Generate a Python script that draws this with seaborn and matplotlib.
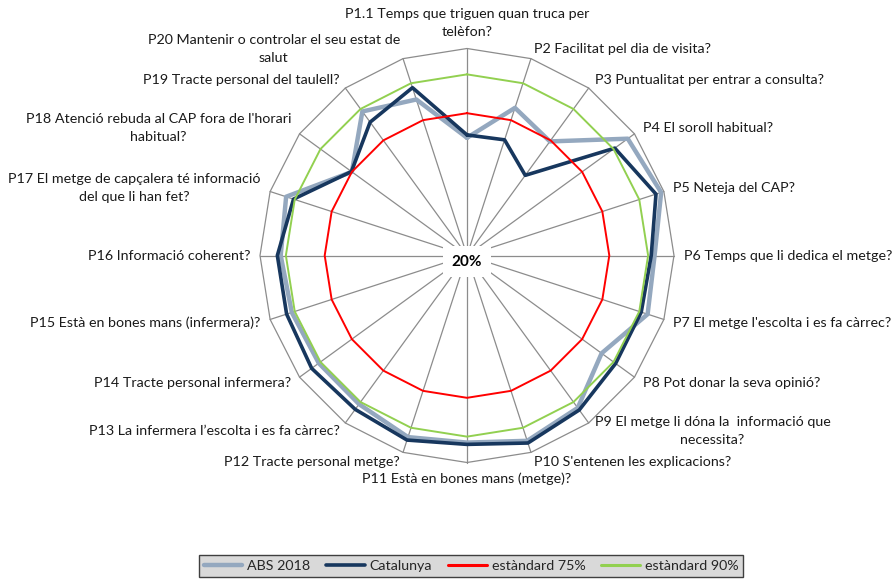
import numpy as np
import pandas as pd
import matplotlib
matplotlib.use("Agg")
import matplotlib.pyplot as plt
import seaborn as sns
from matplotlib.lines import Line2D

categories = [
    "P1.1 Temps que triguen quan truca per\ntelèfon?",
    "P2 Facilitat pel dia de visita?",
    "P3 Puntualitat per entrar a consulta?",
    "P4 El soroll habitual?",
    "P5 Neteja del CAP?",
    "P6 Temps que li dedica el metge?",
    "P7 El metge l'escolta i es fa càrrec?",
    "P8 Pot donar la seva opinió?",
    "P9 El metge li dóna la  informació que\nnecessita?",
    "P10 S'entenen les explicacions?",
    "P11 Està en bones mans (metge)?",
    "P12 Tracte personal metge?",
    "P13 La infermera l’escolta i es fa càrrec?",
    "P14 Tracte personal infermera?",
    "P15 Està en bones mans (infermera)?",
    "P16 Informació coherent?",
    "P17 El metge de capçalera té informació\ndel que li han fet?",
    "P18 Atenció rebuda al CAP fora de l'horari\nhabitual?",
    "P19 Tracte personal del taulell?",
    "P20 Mantenir o controlar el seu estat de\nsalut",
]

abs_2018 = [65.5, 80.0, 74.5, 96.8, 98.9, 92.5, 93.4, 84.3, 92.8, 95.3,
            92.3, 93.8, 91.0, 90.8, 91.2, 92.0, 93.5, 75.0, 88.8, 83.4]
catalunya = [66.6, 67.0, 58.3, 90.6, 96.8, 91.2, 90.8, 91.0, 93.8, 96.2,
             93.0, 95.0, 93.5, 94.2, 93.3, 93.3, 90.5, 75.2, 83.7, 88.2]
estandard_75 = [75] * 20
estandard_90 = [90] * 20

series_names = ["ABS 2018", "Catalunya", "estàndard 75%", "estàndard 90%"]
series_values = [abs_2018, catalunya, estandard_75, estandard_90]
series_colors = ["#94A8BF", "#17375E", "#FF0000", "#92D050"]
series_widths = [3.2, 2.6, 1.4, 1.4]

r_min, r_max = 20, 100
center_label = "20%"

sns.set_style("white")
plt.rcParams["font.family"] = ["Lato", "DejaVu Sans"]

fig = plt.figure(figsize=(8.95, 5.82), dpi=100)
ax = fig.add_axes([260 / 895, 119.5 / 582, 414 / 895, 414 / 582], projection="polar")
ax.set_theta_zero_location("N")
ax.set_theta_direction(-1)

n = len(categories)
theta = np.arange(n) * 2 * np.pi / n
theta_closed = np.append(theta, 2 * np.pi)

# grid: spokes and outer ring
grid_color = "#8C8C8C"
for t in theta:
    ax.plot([t, t], [r_min, r_max], color=grid_color, lw=0.9, zorder=1, clip_on=False)
ax.plot(theta_closed, [r_max] * (n + 1), color=grid_color, lw=0.9, zorder=1, clip_on=False)

handles = []
for name, vals, col, lw in zip(series_names, series_values, series_colors, series_widths):
    df = pd.DataFrame({"theta": theta_closed, "value": list(vals) + [vals[0]]})
    sns.lineplot(data=df, x="theta", y="value", sort=False, estimator=None,
                 errorbar=None, color=col, lw=lw, ax=ax, legend=False, zorder=3)
    handles.append(Line2D([0], [0], color=col, lw=max(lw, 2.2)))

ax.set_ylim(r_min, r_max)
ax.set_xlim(0, 2 * np.pi)
ax.set_xlabel("")
ax.set_ylabel("")
ax.set_xticks([])
ax.set_yticks([])
ax.grid(False)
ax.spines["polar"].set_visible(False)
ax.patch.set_alpha(0)

# category labels
d = 10
for t, lab in zip(theta, categories):
    s, c = np.sin(t), np.cos(t)
    if abs(s) < 0.01:
        ha = "center"
        va = "bottom" if c > 0 else "top"
    else:
        ha = "left" if s > 0 else "right"
        va = "center"
    ax.annotate(lab, xy=(t, r_max), xytext=(d * s, d * c), textcoords="offset pixels",
                ha=ha, va=va, multialignment="center", fontsize=10.3, linespacing=1.6,
                color="#1A1A1A", annotation_clip=False)

ax.annotate(center_label, xy=(0, r_min), xytext=(0, -6), textcoords="offset pixels",
            ha="center", va="center", fontsize=11, fontweight="bold", color="black",
            bbox=dict(boxstyle="square,pad=0.55", fc="white", ec="none"), zorder=5)

leg = fig.legend(handles, series_names, loc="center", bbox_to_anchor=(471 / 895, 16 / 582),
                 ncol=4, frameon=True, fancybox=False, fontsize=10.3, handlelength=2.7,
                 handletextpad=0.35, columnspacing=1.1, borderpad=0.35)
leg.get_frame().set_facecolor("#D9D9D9")
leg.get_frame().set_edgecolor("#3F3F3F")
leg.get_frame().set_linewidth(1.0)
leg.get_frame().set_alpha(1)

fig.savefig("out.png", dpi=100)
